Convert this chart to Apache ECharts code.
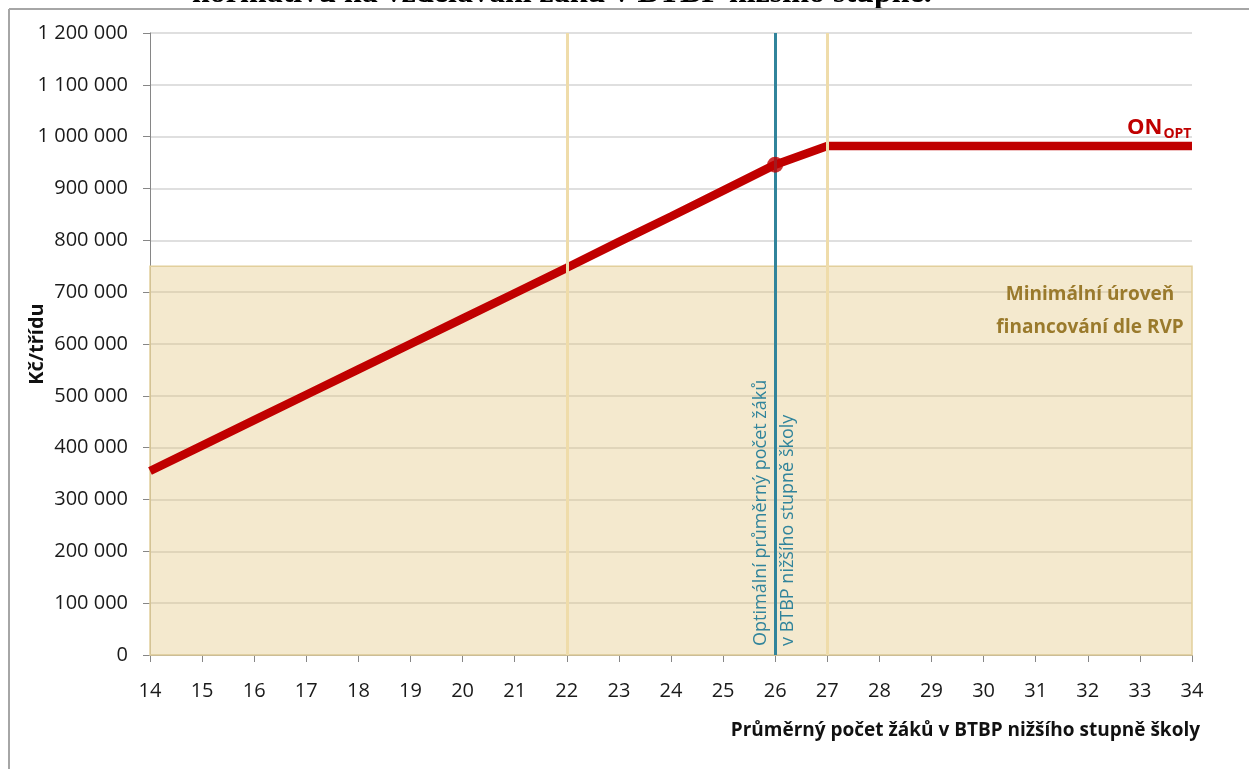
<!DOCTYPE html>
<html>
<head>
<meta charset="utf-8">
<script src="https://cdn.jsdelivr.net/npm/echarts@6/dist/echarts.min.js"></script>
<style>
  html, body { margin: 0; padding: 0; background: #fff; }
  #main { width: 1249px; height: 769px; }
</style>
</head>
<body>
<div id="main"></div>
<script>
// data
var pupils = [14, 15, 16, 17, 18, 19, 20, 21, 22, 23, 24, 25, 26, 27, 28, 29, 30, 31, 32, 33, 34];
var onOpt = [355000, 404000, 453000, 502000, 551000, 600000, 649000, 698000, 747000, 797000, 846000, 896000, 946000,
             982000, 982000, 982000, 982000, 982000, 982000, 982000, 982000];
var minLevel = 750000;           // minimální úroveň financování dle RVP
var optimum = 26;                // optimální průměrný počet žáků
var bounds = [22, 27];           // béžové svislé čáry
var yTicks = [0, 1200000, 100000];

var FONT = '"Open Sans", sans-serif';
var myChart = echarts.init(document.getElementById('main'));

var linePoints = pupils.map(function (p, i) { return [p, onOpt[i]]; });
var optPoint = [optimum, onOpt[pupils.indexOf(optimum)]];

// mezery mezi tisíci
function fmt(v) {
    return String(v).replace(/\B(?=(\d{3})+(?!\d))/g, ' ');
}

var option = {
    backgroundColor: '#fff',
    animation: false,
    grid: { left: 150, right: 57, top: 33, bottom: 114 },
    xAxis: {
        type: 'value',
        min: pupils[0],
        max: pupils[pupils.length - 1],
        interval: 1,
        axisLine: { show: true, onZero: false, lineStyle: { color: '#868686', width: 1 } },
        axisTick: { show: true, length: 7, lineStyle: { color: '#868686' } },
        axisLabel: { color: '#1a1a1a', fontFamily: FONT, fontSize: 20, margin: 26 },
        splitLine: { show: false }
    },
    yAxis: {
        type: 'value',
        min: yTicks[0],
        max: yTicks[1],
        interval: yTicks[2],
        name: 'Kč/třídu',
        nameLocation: 'middle',
        nameGap: 103,
        nameRotate: 90,
        nameMoveOverlap: false,
        nameTextStyle: { color: '#111', fontFamily: FONT, fontSize: 20, fontWeight: 'bold' },
        axisLine: { show: true, lineStyle: { color: '#868686', width: 1 } },
        axisTick: { show: true, length: 7, lineStyle: { color: '#868686' } },
        axisLabel: { color: '#1a1a1a', fontFamily: FONT, fontSize: 20, margin: 22, formatter: fmt },
        splitLine: { show: true, lineStyle: { color: '#d4d4d4', width: 1.5 } }
    },
    series: [
        {
            // podklad - minimální úroveň
            type: 'line',
            data: [],
            silent: true,
            z: 1,
            markArea: {
                silent: true,
                itemStyle: { color: 'rgba(226, 196, 126, 0.38)', borderColor: '#e2cf9c', borderWidth: 1.5 },
                data: [[{ xAxis: pupils[0], yAxis: 0 }, { xAxis: pupils[pupils.length - 1], yAxis: minLevel }]]
            }
        },
        {
            name: 'ON_OPT',
            type: 'line',
            data: linePoints,
            showSymbol: false,
            z: 3,
            lineStyle: { color: '#c00000', width: 8.5 },
            itemStyle: { color: '#c00000' }
        },
        {
            // svislé čáry
            type: 'line',
            data: [],
            z: 4,
            markLine: {
                silent: true,
                symbol: 'none',
                label: { show: false },
                data: [
                    { xAxis: bounds[0], lineStyle: { color: '#efdcaa', width: 3, type: 'solid' } },
                    { xAxis: bounds[1], lineStyle: { color: '#efdcaa', width: 3, type: 'solid' } },
                    { xAxis: optimum, lineStyle: { color: '#31849b', width: 3, type: 'solid' } }
                ]
            }
        },
        {
            type: 'scatter',
            data: [optPoint],
            symbol: 'circle',
            symbolSize: 16,
            z: 5,
            itemStyle: { color: '#c00000' }
        }
    ],
    graphic: [
        // oříznutý nadpis nad grafem
        {
            type: 'text', left: 192, top: -22, z: 100,
            style: { text: 'normativu na vzdělávání žáků v BTBP nižšího stupně.', font: 'bold 32px "Liberation Serif", serif', fill: '#000' }
        },
        { type: 'line', z: 100, shape: { x1: 9, y1: 9, x2: 1249, y2: 9 }, style: { stroke: '#a6a6a6', lineWidth: 2 } },
        { type: 'line', z: 100, shape: { x1: 9, y1: 9, x2: 9, y2: 769 }, style: { stroke: '#a6a6a6', lineWidth: 2 } },
        {
            type: 'text', x: 1200, y: 731, z: 100,
            style: {
                text: 'Průměrný počet žáků v BTBP nižšího stupně školy',
                font: 'bold 19px ' + FONT, fill: '#111', textAlign: 'right', textVerticalAlign: 'middle'
            }
        },
        {
            type: 'text', x: 1127, y: 128, z: 100,
            style: {
                text: '{a|ON}{b|OPT}',
                textVerticalAlign: 'middle',
                rich: {
                    a: { font: 'bold 22px ' + FONT, fill: '#c00000', color: '#c00000' },
                    b: { font: 'bold 14px ' + FONT, fill: '#c00000', color: '#c00000', padding: [12, 0, 0, 1] }
                }
            }
        },
        {
            type: 'text', x: 1090, y: 311, z: 100,
            style: {
                text: 'Minimální úroveň\nfinancování dle RVP',
                font: 'bold 19px ' + FONT, fill: '#9a7a2c', textAlign: 'center', textVerticalAlign: 'middle', lineHeight: 33
            }
        },
        {
            type: 'text', x: 774, y: 646, rotation: Math.PI / 2, z: 100,
            style: {
                text: 'Optimální průměrný počet žáků\nv BTBP nižšího stupně školy',
                font: '18px ' + FONT, fill: '#31849b', textAlign: 'left', textVerticalAlign: 'middle', lineHeight: 27
            }
        }
    ]
};

myChart.setOption(option);
</script>
</body>
</html>
